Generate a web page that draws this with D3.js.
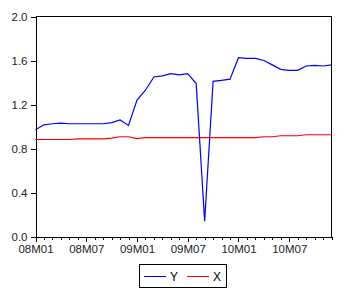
<!DOCTYPE html>
<html lang="en">
<head>
<meta charset="UTF-8">
<title>Y and X</title>
<script src="https://cdn.jsdelivr.net/npm/d3@7"></script>
<style>
	body { margin: 0; background: #fff; }
	svg { display: block; }
	.axis text { font-family: "Liberation Sans", Arial, sans-serif; font-size: 11.5px; fill: #222; }
	.axis path, .axis line { stroke: #000; shape-rendering: crispEdges; }
	.legend text { font-family: "Liberation Sans", Arial, sans-serif; font-size: 12px; fill: #000; }
</style>
</head>
<body>
<script>
var months = ["2008M01","2008M02","2008M03","2008M04","2008M05","2008M06","2008M07","2008M08","2008M09","2008M10","2008M11","2008M12",
	"2009M01","2009M02","2009M03","2009M04","2009M05","2009M06","2009M07","2009M08","2009M09","2009M10","2009M11","2009M12",
	"2010M01","2010M02","2010M03","2010M04","2010M05","2010M06","2010M07","2010M08","2010M09","2010M10","2010M11","2010M12"];
var tickLabels = {"2008M01": "08M01", "2008M07": "08M07", "2009M01": "09M01", "2009M07": "09M07", "2010M01": "10M01", "2010M07": "10M07"};
var yTicks = [0.0, 0.4, 0.8, 1.2, 1.6, 2.0];

var seriesY = [0.97, 1.015, 1.025, 1.03, 1.025, 1.025, 1.025, 1.025, 1.025, 1.036, 1.06, 1.01,
	1.24, 1.33, 1.45, 1.46, 1.48, 1.47, 1.48, 1.39, 0.14, 1.41, 1.42, 1.43,
	1.625, 1.62, 1.62, 1.60, 1.56, 1.52, 1.51, 1.51, 1.55, 1.555, 1.55, 1.56];
var seriesX = [0.882, 0.882, 0.882, 0.882, 0.882, 0.888, 0.888, 0.888, 0.888, 0.895, 0.907, 0.907,
	0.89, 0.898, 0.898, 0.898, 0.898, 0.898, 0.898, 0.898, 0.898, 0.898, 0.898, 0.898,
	0.898, 0.898, 0.898, 0.907, 0.907, 0.916, 0.916, 0.916, 0.925, 0.925, 0.925, 0.925];

var W = 352, H = 298;
var plotL = 35.5, plotR = 331.5, plotT = 16.5, plotB = 236.5;

var svg = d3.select("body").append("svg").attr("width", W).attr("height", H);

var x = d3.scalePoint().domain(months).range([plotL, plotR]);
var y = d3.scaleLinear().domain([0, 2]).range([plotB, plotT]);

// frame (top and right)
svg.append("path")
	.attr("d", "M" + plotL + "," + plotT + "H" + plotR + "V" + plotB)
	.attr("fill", "none").attr("stroke", "#000")
	.attr("shape-rendering", "crispEdges");

var yAxis = svg.append("g").attr("class", "axis")
	.attr("transform", "translate(" + plotL + ",0)")
	.call(d3.axisLeft(y).tickValues(yTicks).tickFormat(d3.format(".1f")).tickSize(5).tickSizeOuter(0).tickPadding(3));

var xAxis = svg.append("g").attr("class", "axis")
	.attr("transform", "translate(0," + plotB + ")")
	.call(d3.axisBottom(x).tickValues(months)
		.tickFormat(function (d) { return tickLabels[d] || ""; })
		.tickSize(5).tickSizeOuter(0).tickPadding(3));
xAxis.selectAll(".tick line").attr("y2", function (d) { return tickLabels[d] ? 5 : 3; });

var line = d3.line()
	.x(function (d, i) { return x(months[i]); })
	.y(function (d) { return y(d); });

svg.append("path").datum(seriesX)
	.attr("d", line).attr("fill", "none").attr("stroke", "#ff0000").attr("stroke-width", 1.2);
svg.append("path").datum(seriesY)
	.attr("d", line).attr("fill", "none").attr("stroke", "#0000ff").attr("stroke-width", 1.2);

// legend
var lg = svg.append("g").attr("class", "legend");
lg.append("rect").attr("x", 139.5).attr("y", 264.5).attr("width", 87).attr("height", 23)
	.attr("fill", "#fff").attr("stroke", "#000").attr("shape-rendering", "crispEdges");
var legendItems = [{name: "Y", color: "#0000ff", x0: 144}, {name: "X", color: "#ff0000", x0: 187}];
legendItems.forEach(function (d) {
	lg.append("line").attr("x1", d.x0).attr("x2", d.x0 + 22).attr("y1", 276.5).attr("y2", 276.5)
		.attr("stroke", d.color).attr("stroke-width", 1);
	lg.append("text").attr("x", d.x0 + 26).attr("y", 281).text(d.name);
});
</script>
</body>
</html>
